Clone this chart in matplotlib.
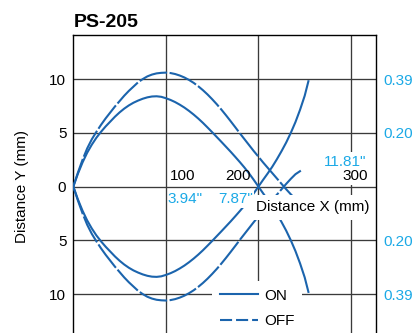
import matplotlib
matplotlib.use('Agg')
import matplotlib.pyplot as plt
from matplotlib.lines import Line2D

plt.rcParams['font.family'] = ['Liberation Sans', 'DejaVu Sans']

# ---- data (mm) ----
title = "PS-205"
on_x = [0, 5, 10, 15, 20, 25, 30, 35, 40, 45, 50, 55, 60, 65, 70, 75, 80, 85, 90, 95,
        100, 105, 110, 115, 120, 125, 130, 135, 140, 145, 150, 155, 160, 165, 170,
        175, 180, 185, 190, 195, 200, 205, 210, 215, 220, 225, 230, 235, 240, 245,
        250, 254]
on_y = [0, 1.2, 2.25, 3.15, 3.9, 4.55, 5.1, 5.6, 6.05, 6.5, 6.9, 7.25, 7.55, 7.8, 8.0,
        8.17, 8.3, 8.38, 8.4, 8.35, 8.22, 8.06, 7.86, 7.62, 7.35, 7.04, 6.7, 6.33,
        5.93, 5.5, 5.06, 4.61, 4.16, 3.7, 3.24, 2.76, 2.27, 1.76, 1.21, 0.62, 0,
        -0.62, -1.22, -1.85, -2.55, -3.3, -4.1, -5.0, -6.0, -7.15, -8.45, -9.8]
off_x = [0, 5, 10, 15, 20, 25, 30, 35, 40, 45, 50, 55, 60, 65, 70, 75, 80, 85, 90, 95,
         100, 105, 110, 115, 120, 125, 130, 135, 140, 145, 150, 155, 160, 165, 170,
         175, 180, 185, 190, 195, 200, 205, 210, 215, 220, 225, 230, 235, 240, 247]
off_y = [0, 1.3, 2.5, 3.55, 4.4, 5.1, 5.75, 6.35, 6.9, 7.45, 7.95, 8.45, 8.9, 9.3, 9.7,
         10.0, 10.25, 10.42, 10.53, 10.58, 10.6, 10.56, 10.47, 10.33, 10.15, 9.92,
         9.65, 9.33, 8.97, 8.57, 8.13, 7.66, 7.16, 6.63, 6.08, 5.52, 4.95, 4.4, 3.85,
         3.3, 2.78, 2.25, 1.75, 1.25, 0.75, 0.25, -0.25, -0.72, -1.15, -1.55]

x_grid = [100, 200, 300]
x_mm_labels = ["100", "200", "300"]
x_in_labels = ['3.94"', '7.87"', '11.81"']
y_ticks = [-10, -5, 0, 5, 10]
y_mm_labels = ["10", "5", "0", "5", "10"]
y_in_ticks = [10, 5, -5, -10]
y_in_labels = ["0.39", "0.20", "0.20", "0.39"]
series_labels = ["ON", "OFF"]

BLUE = '#1b64ad'
CYAN = '#1ba9e6'
GRID = '#3a3a3a'
FS = 11

W, H = 414, 333
fig = plt.figure(figsize=(W / 100, H / 100), dpi=100)

# axes geometry (pixels)
left_px, right_px, top_px = 73.3, 375.7, 35.0
ylim = (-14.6, 14.1)
ppm_y = 10.75
bottom_px = top_px + (ylim[1] - ylim[0]) * ppm_y
ax = fig.add_axes([left_px / W, 1 - bottom_px / H, (right_px - left_px) / W,
                   (bottom_px - top_px) / H])
ax.set_xlim(0, 326.7)
ax.set_ylim(*ylim)

for s in ['top', 'left', 'right']:
    ax.spines[s].set_color('black')
    ax.spines[s].set_linewidth(1.0)
ax.spines['bottom'].set_visible(False)

ax.set_xticks(x_grid)
ax.set_xticklabels([])
ax.set_yticks(y_ticks)
ax.set_yticklabels(y_mm_labels, fontsize=FS)
ax.tick_params(axis='both', length=0)
ax.tick_params(axis='y', pad=5)
ax.grid(True, color=GRID, linewidth=0.95, zorder=0)
ax.set_axisbelow(True)

ax2 = ax.twinx()
ax2.set_ylim(*ylim)
ax2.set_yticks(y_in_ticks)
ax2.set_yticklabels(y_in_labels, fontsize=FS, color=CYAN)
ax2.tick_params(axis='y', length=0, pad=5.5)
for s in ax2.spines.values():
    s.set_visible(False)

dash_curve = (0, (14, 1.2))
ax.plot(on_x, on_y, color=BLUE, lw=1.5, zorder=3, solid_joinstyle='round')
ax.plot(on_x, [-v for v in on_y], color=BLUE, lw=1.5, zorder=3, solid_joinstyle='round')
ax.plot(off_x, off_y, color=BLUE, lw=1.5, ls=dash_curve, zorder=3, dash_joinstyle='round')
ax.plot(off_x, [-v for v in off_y], color=BLUE, lw=1.5, ls=dash_curve, zorder=3,
        dash_joinstyle='round')

# inch label above 300 (drawn first so the 300 label sits on top)
ax.text(317.0, 1.87, x_in_labels[2], fontsize=FS, ha='right', va='baseline', color=CYAN,
        zorder=6, bbox=dict(facecolor='white', edgecolor='none', pad=2.5))
# mm labels along x
ax.text(104.5, 0.63, x_mm_labels[0], fontsize=FS, ha='left', va='baseline', zorder=7)
ax.text(191.4, 0.63, x_mm_labels[1], fontsize=FS, ha='right', va='baseline', zorder=7)
ax.text(305.0, 0.63, x_mm_labels[2], fontsize=FS, ha='center', va='baseline', zorder=7,
        bbox=dict(facecolor='white', edgecolor='none', pad=1.5))
# inch labels below axis line
ax.text(102.0, -1.55, x_in_labels[0], fontsize=FS, ha='left', va='baseline', color=CYAN, zorder=6)
ax.text(193.8, -1.55, x_in_labels[1], fontsize=FS, ha='right', va='baseline', color=CYAN, zorder=6,
        bbox=dict(facecolor='white', edgecolor='none', pad=1.0))
# axis title X
ax.text(197.4, -2.3, "Distance X (mm)", fontsize=FS, ha='left', va='baseline', zorder=7,
        bbox=dict(facecolor='white', edgecolor='none', pad=4.0))

fig.text(left_px / W, 1 - 26.7 / H, title, fontsize=14, fontweight='bold',
         ha='left', va='baseline')
fig.text(22 / W, 1 - 186.8 / H, "Distance Y (mm)", fontsize=FS, rotation=90,
         ha='center', va='center')

handles = [Line2D([], [], color=BLUE, lw=1.5),
           Line2D([], [], color=BLUE, lw=1.5, ls=(0, (5.8, 1.9)))]
leg = ax.legend(handles, series_labels, loc='upper left',
                bbox_to_anchor=(212 / W, 1 - 281 / H), bbox_transform=fig.transFigure,
                frameon=True, facecolor='white', edgecolor='none', framealpha=1,
                fancybox=False, fontsize=FS, handlelength=2.5, handletextpad=0.4,
                borderpad=0.5, labelspacing=0.75, borderaxespad=0)
leg.set_zorder(8)

fig.savefig('out.png', dpi=100)
